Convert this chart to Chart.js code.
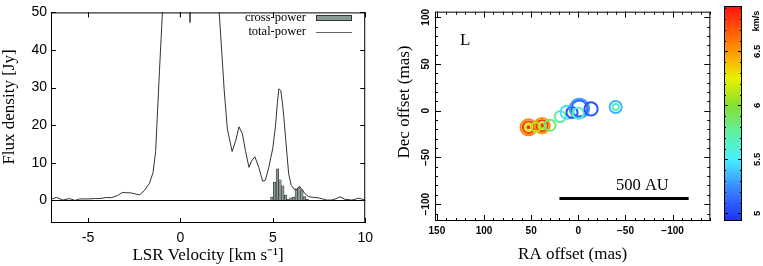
<!DOCTYPE html>
<html>
<head>
<meta charset="utf-8">
<script src="https://cdn.jsdelivr.net/npm/chart.js@4.4.1/dist/chart.umd.min.js"></script>
<style>
  body { margin: 0; background: #fff; }
  #wrap { position: relative; width: 763px; height: 266px; }
  canvas { position: absolute; top: 0; }
</style>
</head>
<body>
<div id="wrap">
  <canvas id="spec" width="380" height="266" style="left:0"></canvas>
  <canvas id="map" width="342" height="266" style="left:380px"></canvas>
  <canvas id="cbar" width="44" height="266" style="left:719px"></canvas>
</div>
<script>
// total-power spectrum (km/s, Jy)
const tpVel = [-7.0, -6.7, -6.35, -6.0, -5.7, -5.45, -5.0, -4.6, -4.35, -4.0, -3.75, -3.4, -3.15,
  -2.66, -2.3, -2.2, -1.93, -1.67, -1.48, -1.34, -1.13, -0.95, -0.7, -0.4, -0.15, 0.0, 0.15,
  0.35, 0.52, 0.7, 1.0, 1.4, 1.8, 2.1, 2.19, 2.37, 2.54, 2.8, 3.0, 3.17, 3.35, 3.53, 3.71,
  3.85, 4.03, 4.25, 4.45, 4.6, 4.78, 5.0, 5.15, 5.25, 5.33, 5.43, 5.52, 5.6, 5.72, 5.86,
  6.0, 6.15, 6.3, 6.45, 6.55, 6.7, 6.94, 7.2, 7.47, 7.7, 7.92, 8.19, 8.45, 8.64, 8.9, 9.27,
  9.45, 9.62, 9.8, 10.0];
const tpFlux = [0.3, 0.8, 0.1, 0.5, 0.0, 0.4, 0.4, 0.5, 0.5, 0.8, 0.7, 1.3, 2.1,
  2.0, 1.55, 1.5, 2.7, 4.6, 7.4, 13, 34.6, 52, 75, 90, 80, 48.8, 80,
  85, 47.3, 85, 95, 88, 70, 50, 43.2, 29.4, 19, 13, 16, 19.6, 17.8, 13, 8.8,
  10.5, 11.6, 8.7, 5.1, 5.4, 8.7, 13.9, 20, 26, 29.7, 29.2, 26, 22, 15, 7,
  4.0, 3.0, 2.9, 3.6, 3.2, 2.0, 1.0, 0.8, 0.7, 0.4, 0.1, 0.1, 0.5, 0.95, 0.3, 0.1,
  0.3, 0.6, 0.4, 0.1];

// cross-power spectrum (km/s, Jy)
const cpVel = [4.95, 5.10, 5.25, 5.39, 5.54, 5.69, 5.83, 5.98, 6.13, 6.27, 6.42, 6.57, 6.71, 6.86];
const cpFlux = [0.8, 4.9, 8.4, 5.5, 3.9, 1.4, 0.3, 0.7, 0.9, 3.1, 3.6, 2.8, 1.0, 0.3];

// maser spots: RA offset (mas), Dec offset (mas), velocity (km/s), flux (Jy)
const spotRA  = [52.8, 52.8, 52.8, 52.8, 38.4, 38.4, 38.4, 38.4, 45, 30, 19.2, 11.9, 6.7, -1.2, -1.2, 0, -13.5, -39.6, -39.6];
const spotDec = [-17.7, -17.7, -17.7, -17.7, -16.0, -16.0, -16.0, -16.0, -17.5, -15.5, -6.2, -1.6, -1.8, 2.4, 2.4, -2.8, 1.9, 4.0, 4.0];
const spotVel = [6.55, 6.8, 6.2, 6.85, 6.5, 6.8, 6.15, 6.85, 6.1, 5.85, 5.75, 5.45, 5.05, 5.3, 5.12, 5.65, 5.05, 5.35, 5.7];
const spotFlux = [5.9, 3.0, 1.14, 0.11, 5.4, 2.8, 1.0, 0.11, 1.96, 2.8, 2.8, 4.0, 2.8, 8.6, 5.8, 2.8, 4.0, 3.4, 0.87];

// 500 AU scale bar
const barRA = [20, -117];
const barDec = [-94, -94];

// colour bar
const cbarStops = [4.93, 5.0, 5.25, 5.5, 5.75, 6.0, 6.25, 6.5, 6.92];
const cbarColors = ['#2030e8', '#2244ff', '#3c8cff', '#48f0ff', '#60f0a0', '#86e030', '#e8f000', '#ff9800', '#ff1010'];

function hexRgb(h) { return [1, 3, 5].map(i => parseInt(h.slice(i, i + 2), 16)); }
function velColor(v) {
  let i = 0;
  while (i < cbarStops.length - 2 && v > cbarStops[i + 1]) i++;
  const t = Math.max(0, Math.min(1, (v - cbarStops[i]) / (cbarStops[i + 1] - cbarStops[i])));
  const a = hexRgb(cbarColors[i]), b = hexRgb(cbarColors[i + 1]);
  return 'rgb(' + a.map((c, k) => Math.round(c + (b[k] - c) * t)).join(',') + ')';
}
const spotRadius = f => 3.3 * Math.sqrt(f);

// frame with inward ticks on all sides
const framePlugin = {
  id: 'frame',
  afterDatasetsDraw(chart, args, opts) {
    const { ctx, chartArea: a } = chart;
    ctx.save();
    ctx.strokeStyle = '#000';
    ctx.lineWidth = 1;
    ctx.strokeRect(a.left + 0.5, a.top + 0.5, a.right - a.left - 1, a.bottom - a.top - 1);
    ctx.beginPath();
    (opts.marks || []).forEach(m => {
      const s = chart.scales[m.scale];
      const lo = Math.min(s.min, s.max), hi = Math.max(s.min, s.max);
      const n0 = Math.ceil(lo / m.step - 1e-6), n1 = Math.floor(hi / m.step + 1e-6);
      for (let n = n0; n <= n1; n++) {
        const p = Math.round(s.getPixelForValue(n * m.step)) + 0.5;
        if (s.isHorizontal()) {
          ctx.moveTo(p, a.bottom); ctx.lineTo(p, a.bottom - m.len);
          ctx.moveTo(p, a.top); ctx.lineTo(p, a.top + m.len);
        } else {
          ctx.moveTo(a.left, p); ctx.lineTo(a.left + m.len, p);
          ctx.moveTo(a.right, p); ctx.lineTo(a.right - m.len, p);
        }
      }
    });
    if (opts.zeroLine) {
      const y = Math.round(chart.scales.y.getPixelForValue(0)) + 0.5;
      ctx.moveTo(a.left, y); ctx.lineTo(a.right, y);
    }
    ctx.stroke();
    ctx.restore();
  }
};

// free text, rotated tick labels, legend
const notesPlugin = {
  id: 'notes',
  afterDraw(chart, args, opts) {
    const ctx = chart.ctx;
    ctx.save();
    ctx.fillStyle = '#000';
    ctx.textBaseline = 'middle';
    (opts.texts || []).forEach(t => {
      let x = t.x, y = t.y;
      if (t.data) { x = chart.scales.x.getPixelForValue(t.x); y = chart.scales.y.getPixelForValue(t.y); }
      ctx.save();
      ctx.font = t.font;
      ctx.textAlign = t.align || 'center';
      ctx.translate(x, y);
      if (t.rot) ctx.rotate(t.rot);
      ctx.fillText(t.text, 0, 0);
      ctx.restore();
    });
    if (opts.rotTicks) {
      const r = opts.rotTicks, s = chart.scales[r.scale];
      ctx.font = r.font;
      ctx.textAlign = 'center';
      s.ticks.forEach(tk => {
        ctx.save();
        ctx.translate(r.x, s.getPixelForValue(tk.value));
        ctx.rotate(-Math.PI / 2);
        ctx.fillText(String(+tk.value.toFixed(2)).replace('-', '\u2212'), 0, 0);
        ctx.restore();
      });
    }
    if (opts.legend) {
      const L = opts.legend;
      ctx.font = L.font;
      ctx.textAlign = 'right';
      ctx.fillText('cross-power', L.x, L.y1);
      ctx.fillText('total-power', L.x, L.y2);
      ctx.fillStyle = '#8a9a96';
      ctx.fillRect(L.x + 10, L.y1 - 3, 36, 6);
      ctx.strokeStyle = '#333';
      ctx.lineWidth = 1;
      ctx.strokeRect(L.x + 10.5, L.y1 - 2.5, 35, 5);
      ctx.strokeStyle = '#666';
      ctx.beginPath();
      ctx.moveTo(L.x + 10, L.y2 + 0.5); ctx.lineTo(L.x + 46, L.y2 + 0.5);
      ctx.stroke();
    }
    ctx.restore();
  }
};

const serif = 'Liberation Serif, Times New Roman, serif';
const sans = 'Liberation Sans, Arial, sans-serif';

// spectrum
new Chart(document.getElementById('spec'), {
  type: 'bar',
  data: {
    datasets: [
      {
        type: 'line', label: 'total-power', order: 0,
        data: tpVel.map((v, i) => ({ x: v, y: tpFlux[i] })),
        borderColor: '#333', borderWidth: 1, pointRadius: 0, tension: 0
      },
      {
        type: 'bar', label: 'cross-power', order: 1,
        data: cpVel.map((v, i) => ({ x: v, y: cpFlux[i] })),
        backgroundColor: '#8a9a96', borderColor: '#333', borderWidth: 0.7,
        barPercentage: 1, categoryPercentage: 1
      }
    ]
  },
  options: {
    responsive: false, animation: false,
    layout: { padding: { top: 7, right: 13, left: 0, bottom: 0 } },
    plugins: {
      legend: { display: false }, tooltip: { enabled: false },
      frame: { marks: [{ scale: 'x', step: 5, len: 5 }, { scale: 'y', step: 10, len: 5 }], zeroLine: true },
      notes: {
        texts: [{ text: 'Flux density [Jy]', x: 10, y: 107, font: '17px ' + serif, rot: -Math.PI / 2 }],
        legend: { x: 306, y1: 18, y2: 32, font: '12.5px ' + serif }
      }
    },
    scales: {
      x: {
        type: 'linear', min: -7, max: 10, offset: false,
        grid: { display: false, drawTicks: false }, border: { display: false },
        ticks: { stepSize: 5, includeBounds: false, color: '#000', padding: 7, font: { family: sans, size: 14 } },
        title: { display: true, text: 'LSR Velocity [km s\u207B\u00B9]', color: '#000', padding: 0, font: { family: serif, size: 17 } },
        afterFit(s) { s.height = 43; }
      },
      y: {
        min: -6, max: 50,
        grid: { display: false, drawTicks: false }, border: { display: false },
        ticks: { stepSize: 10, includeBounds: false, color: '#000', padding: 4, font: { family: sans, size: 14 } },
        afterFit(s) { s.width = 51; }
      }
    }
  },
  plugins: [framePlugin, notesPlugin]
});

// spot map
new Chart(document.getElementById('map'), {
  type: 'scatter',
  data: {
    datasets: [
      {
        label: 'spots',
        data: spotRA.map((x, i) => ({ x: x, y: spotDec[i] })),
        pointRadius: c => spotRadius(spotFlux[c.dataIndex]),
        pointBorderColor: c => velColor(spotVel[c.dataIndex]),
        pointBackgroundColor: 'rgba(0,0,0,0)',
        pointBorderWidth: 2
      },
      {
        label: '500 AU',
        data: barRA.map((x, i) => ({ x: x, y: barDec[i] })),
        showLine: true, borderColor: '#000', borderWidth: 3, pointRadius: 0
      }
    ]
  },
  options: {
    responsive: false, animation: false,
    layout: { padding: { top: 6, right: 3, left: 0, bottom: 0 } },
    plugins: {
      legend: { display: false }, tooltip: { enabled: false },
      frame: { marks: [
        { scale: 'x', step: 10, len: 3 }, { scale: 'x', step: 50, len: 6 },
        { scale: 'y', step: 10, len: 3 }, { scale: 'y', step: 50, len: 6 }] },
      notes: {
        texts: [
          { text: 'Dec offset (mas)', x: 25, y: 102, font: '17px ' + serif, rot: -Math.PI / 2 },
          { text: 'L', x: 120, y: 75, data: true, font: '17px ' + serif },
          { text: '500 AU', x: -68, y: -80, data: true, font: '16.5px ' + serif }
        ],
        rotTicks: { scale: 'y', x: 46.5, font: 'bold 10px ' + sans }
      }
    },
    scales: {
      x: {
        type: 'linear', min: -140, max: 152, reverse: true,
        grid: { display: false, drawTicks: false }, border: { display: false },
        ticks: { stepSize: 50, includeBounds: false, color: '#000', padding: 4,
          font: { family: sans, size: 10, weight: 'bold' },
          callback: v => String(v).replace('-', '\u2212') },
        title: { display: true, text: 'RA offset (mas)', color: '#000', padding: { top: 0, bottom: 1 }, font: { family: serif, size: 17 } },
        afterFit(s) { s.height = 45; }
      },
      y: {
        min: -118, max: 106,
        grid: { display: false, drawTicks: false }, border: { display: false },
        ticks: { stepSize: 50, includeBounds: false, display: false },
        afterFit(s) { s.width = 55; }
      }
    }
  },
  plugins: [framePlugin, notesPlugin]
});

// colour bar
new Chart(document.getElementById('cbar'), {
  type: 'bar',
  data: {
    labels: ['v'],
    datasets: [{
      data: [[cbarStops[0], cbarStops[cbarStops.length - 1]]],
      borderWidth: 0, barPercentage: 1, categoryPercentage: 1,
      backgroundColor: c => {
        const ch = c.chart;
        if (!ch.chartArea) return cbarColors[0];
        const y = ch.scales.y;
        const lo = cbarStops[0], hi = cbarStops[cbarStops.length - 1];
        const g = ch.ctx.createLinearGradient(0, y.getPixelForValue(lo), 0, y.getPixelForValue(hi));
        cbarStops.forEach((s, i) => g.addColorStop((s - lo) / (hi - lo), cbarColors[i]));
        return g;
      }
    }]
  },
  options: {
    responsive: false, animation: false,
    layout: { padding: { top: 6, right: 0, left: 5, bottom: 45 } },
    plugins: {
      legend: { display: false }, tooltip: { enabled: false },
      frame: { marks: [{ scale: 'y', step: 0.1, len: 2 }, { scale: 'y', step: 0.5, len: 4 }] },
      notes: {
        texts: [{ text: 'km/s', x: 38, y: 21, font: 'bold 9px ' + sans, rot: -Math.PI / 2 }],
        rotTicks: { scale: 'y', x: 38, font: 'bold 9.5px ' + sans }
      }
    },
    scales: {
      x: { display: false },
      y: {
        position: 'right', min: cbarStops[0], max: cbarStops[cbarStops.length - 1],
        grid: { display: false, drawTicks: false }, border: { display: false },
        ticks: { stepSize: 0.5, includeBounds: false, display: false },
        afterFit(s) { s.width = 21; }
      }
    }
  },
  plugins: [framePlugin, notesPlugin]
});
</script>
</body>
</html>
